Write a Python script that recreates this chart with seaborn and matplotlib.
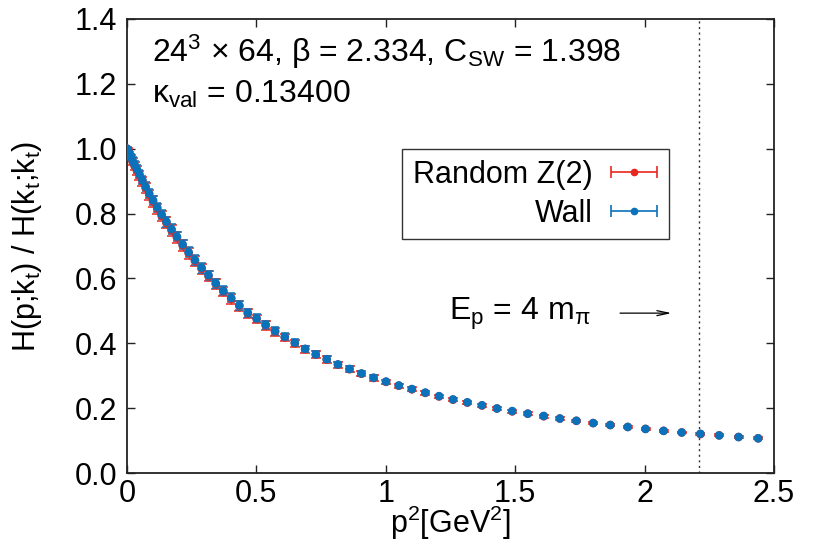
import matplotlib
matplotlib.use("Agg")
import numpy as np
import pandas as pd
import matplotlib.pyplot as plt
import seaborn as sns
from matplotlib.lines import Line2D
from matplotlib.collections import LineCollection
from matplotlib.container import ErrorbarContainer
from matplotlib.legend_handler import HandlerErrorbar

# momentum transfer p^2 [GeV^2]
p2 = [0.0000, 0.0006, 0.0024, 0.0054, 0.0095, 0.0149, 0.0214, 0.0292, 0.0381, 0.0482,
      0.0595, 0.0720, 0.0857, 0.1006, 0.1167, 0.1340, 0.1524, 0.1721, 0.1929, 0.2149,
      0.2381, 0.2625, 0.2881, 0.3149, 0.3429, 0.3721, 0.4025, 0.4340, 0.4668, 0.5007,
      0.5358, 0.5721, 0.6096, 0.6483, 0.6883, 0.7293, 0.7717, 0.8151, 0.8598, 0.9058,
      0.9526, 1.0008, 1.0502, 1.1007, 1.1526, 1.2056, 1.2596, 1.3150, 1.3717, 1.4294,
      1.4884, 1.5485, 1.6100, 1.6725, 1.7363, 1.8012, 1.8674, 1.9349, 2.0034, 2.0733,
      2.1433, 2.2155, 2.2880, 2.3629, 2.4387]

# ratio H(p;kt)/H(kt;kt), random Z(2) sources
z2_ratio = [1.000, 0.999, 0.995, 0.989, 0.981, 0.971, 0.960, 0.947, 0.933, 0.917,
            0.899, 0.879, 0.858, 0.837, 0.815, 0.793, 0.771, 0.748, 0.726, 0.702,
            0.678, 0.654, 0.630, 0.607, 0.583, 0.560, 0.537, 0.515, 0.492, 0.475,
            0.455, 0.436, 0.418, 0.400, 0.382, 0.365, 0.350, 0.334, 0.320, 0.306,
            0.293, 0.281, 0.269, 0.258, 0.247, 0.236, 0.226, 0.217, 0.208, 0.199,
            0.190, 0.183, 0.175, 0.168, 0.161, 0.154, 0.148, 0.142, 0.136, 0.130,
            0.125, 0.120, 0.116, 0.111, 0.107]
z2_err = [0.000, 0.005, 0.007, 0.008, 0.009, 0.010, 0.011, 0.012, 0.013, 0.014,
          0.014, 0.015, 0.015, 0.016, 0.016, 0.016, 0.017, 0.017, 0.017, 0.017,
          0.017, 0.016, 0.016, 0.016, 0.015, 0.015, 0.015, 0.014, 0.014, 0.013,
          0.013, 0.012, 0.012, 0.011, 0.011, 0.010, 0.010, 0.009, 0.009, 0.008,
          0.008, 0.007, 0.007, 0.006, 0.006, 0.006, 0.005, 0.005, 0.005, 0.004,
          0.004, 0.004, 0.004, 0.004, 0.004, 0.004, 0.004, 0.004, 0.003, 0.003,
          0.003, 0.003, 0.003, 0.003, 0.003]

# ratio H(p;kt)/H(kt;kt), wall sources
wall_ratio = [1.000, 0.999, 0.996, 0.991, 0.984, 0.975, 0.964, 0.951, 0.937, 0.921,
              0.903, 0.883, 0.862, 0.841, 0.819, 0.797, 0.775, 0.752, 0.729, 0.705,
              0.681, 0.657, 0.633, 0.610, 0.585, 0.562, 0.540, 0.517, 0.494, 0.477,
              0.457, 0.438, 0.420, 0.402, 0.383, 0.366, 0.351, 0.335, 0.321, 0.307,
              0.294, 0.282, 0.270, 0.259, 0.248, 0.237, 0.227, 0.218, 0.209, 0.199,
              0.191, 0.183, 0.176, 0.168, 0.161, 0.154, 0.148, 0.142, 0.136, 0.130,
              0.125, 0.121, 0.116, 0.111, 0.107]
wall_err = [0.000, 0.004, 0.006, 0.007, 0.008, 0.009, 0.010, 0.011, 0.012, 0.012,
            0.013, 0.013, 0.014, 0.014, 0.014, 0.015, 0.015, 0.015, 0.015, 0.015,
            0.015, 0.015, 0.015, 0.014, 0.014, 0.014, 0.014, 0.013, 0.013, 0.012,
            0.012, 0.011, 0.011, 0.010, 0.010, 0.009, 0.009, 0.008, 0.008, 0.007,
            0.007, 0.006, 0.006, 0.006, 0.005, 0.005, 0.005, 0.004, 0.004, 0.004,
            0.004, 0.003, 0.003, 0.003, 0.003, 0.003, 0.003, 0.003, 0.002, 0.002,
            0.002, 0.002, 0.002, 0.002, 0.002]

series_names = ["Random Z(2)", "Wall"]
series_colors = ["#e8281e", "#0a72ba"]

x_ticks = [0, 0.5, 1, 1.5, 2, 2.5]
x_tick_labels = ["0", "0.5", "1", "1.5", "2", "2.5"]
y_ticks = [0.0, 0.2, 0.4, 0.6, 0.8, 1.0, 1.2, 1.4]
y_tick_labels = ["0.0", "0.2", "0.4", "0.6", "0.8", "1.0", "1.2", "1.4"]

threshold_p2 = 2.21  # p^2 where E_p = 4 m_pi

df = pd.concat([
    pd.DataFrame({"p2": p2, "ratio": z2_ratio, "err": z2_err, "source": series_names[0]}),
    pd.DataFrame({"p2": p2, "ratio": wall_ratio, "err": wall_err, "source": series_names[1]}),
], ignore_index=True)

sns.set_theme(style="ticks")
plt.rcParams.update({
    "font.family": ["Liberation Sans", "DejaVu Sans"],
    "mathtext.fontset": "custom",
    "mathtext.rm": "Liberation Sans",
    "mathtext.it": "Liberation Sans",
    "mathtext.bf": "Liberation Sans:bold",
    "mathtext.default": "regular",
    "axes.edgecolor": "#222222",
    "axes.linewidth": 1.3,
    "axes.labelcolor": "black",
    "text.color": "black",
    "xtick.color": "#222222",
    "ytick.color": "#222222",
    "xtick.labelcolor": "black",
    "ytick.labelcolor": "black",
})

FS = 22
FS_NOTE = 23

fig = plt.figure(figsize=(8.21, 5.49), dpi=100)
ax = fig.add_axes([0.1547, 0.1384, 0.7881, 0.8270])

for name, color, cap in zip(series_names, series_colors, [3.8, 3.0]):
    sub = df[df["source"] == name]
    ax.errorbar(sub["p2"], sub["ratio"], yerr=sub["err"], fmt="none",
                ecolor=color, elinewidth=1.0, capsize=cap, capthick=1.1, zorder=2)
    sns.scatterplot(data=sub, x="p2", y="ratio", color=color, s=38,
                    edgecolor="none", linewidth=0, legend=False, ax=ax, zorder=3)

ax.axvline(threshold_p2, color="#333333", lw=1.0, ls=(0, (1.5, 2.5)), zorder=1)

ax.set_xlim(0, 2.5)
ax.set_ylim(0, 1.4)
ax.set_xticks(x_ticks)
ax.set_xticklabels(x_tick_labels)
ax.set_yticks(y_ticks)
ax.set_yticklabels(y_tick_labels)
ax.tick_params(axis="both", which="major", direction="in", length=6, width=1.0,
               top=True, right=True, labelsize=FS)
ax.tick_params(axis="y", pad=7)
ax.tick_params(axis="x", pad=4)
for sp in ax.spines.values():
    sp.set_visible(True)

ax.set_xlabel(r"p$^2$[GeV$^2$]", fontsize=FS)
ax.set_ylabel(r"H(p;k$_t$) / H(k$_t$;k$_t$)", fontsize=FS)
ax.xaxis.set_label_coords(0.5, -0.068)
ax.yaxis.set_label_coords(-0.128, 0.5)

ax.text(0.0386, 0.905, r"24$^3$ × 64, β = 2.334, C$_{SW}$ = 1.398",
        transform=ax.transAxes, fontsize=FS_NOTE, va="baseline", ha="left")
ax.text(0.0386, 0.815, r"κ$_{val}$ = 0.13400",
        transform=ax.transAxes, fontsize=FS_NOTE, va="baseline", ha="left")

ax.text(1.245, 0.472, r"E$_p$ = 4 m$_π$", fontsize=FS_NOTE, va="baseline", ha="left")
ax.annotate("", xy=(2.104, 0.493), xytext=(1.905, 0.493),
            arrowprops=dict(arrowstyle="->,head_length=0.7,head_width=0.15",
                            lw=0.9, color="black", shrinkA=0, shrinkB=0))


def legend_proxy(color):
    mk = Line2D([], [], color=color, marker="o", markersize=4.5, linestyle="none")
    cap = Line2D([], [], color=color, marker="|", markersize=8,
                 markeredgewidth=1.2, linestyle="none")
    bar = LineCollection([], colors=[color], linewidths=1.2)
    return ErrorbarContainer((mk, (cap, cap), (bar,)), has_xerr=True, has_yerr=False)


handles = [legend_proxy(c) for c in series_colors]
leg = ax.legend(handles, series_names, loc="upper right",
                bbox_to_anchor=(0.838, 0.714), fontsize=FS, markerfirst=False,
                frameon=True, fancybox=False, framealpha=1, edgecolor="#333333",
                handlelength=1.6, handletextpad=0.55, borderpad=0.35,
                labelspacing=0.3, borderaxespad=0, numpoints=1,
                handler_map={ErrorbarContainer: HandlerErrorbar(xerr_size=0.74)})
leg.get_frame().set_linewidth(1.0)

fig.savefig("out.png", dpi=100)
